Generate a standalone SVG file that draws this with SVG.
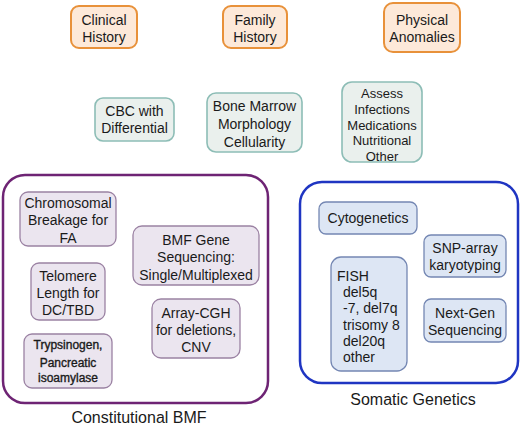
<svg xmlns="http://www.w3.org/2000/svg" width="520" height="427" viewBox="0 0 520 427">
<style>
text{font-family:"Liberation Sans",Arial,sans-serif;font-size:14px;fill:#1a1a1a;text-anchor:middle}
.or{fill:#fde9d9;stroke:#e8913a;stroke-width:2}
.te{fill:#eaf0ed;stroke:#8dbdb6;stroke-width:1.6}
.pu{fill:#ebe5ef;stroke:#9b82a3;stroke-width:1.3}
.bl{fill:#dde6f4;stroke:#7487b3;stroke-width:1.3}
.big{font-size:16px}
.sm{font-size:13px}
.tr{font-size:12px;stroke:#1a1a1a;stroke-width:0.35}
.st{text-anchor:start}
</style>
<rect width="520" height="427" fill="#ffffff"/>
<g id="clinical-history"><rect class="or" x="71" y="6" width="66" height="42" rx="8"/><text x="104" y="25">Clinical</text><text x="104" y="42">History</text></g>
<g id="family-history"><rect class="or" x="223" y="6" width="64" height="42" rx="8"/><text x="255" y="25">Family</text><text x="255" y="42">History</text></g>
<g id="physical-anomalies"><rect class="or" x="384" y="3" width="76" height="49" rx="9"/><text x="422" y="25">Physical</text><text x="422" y="42">Anomalies</text></g>
<g id="cbc"><rect class="te" x="95" y="98" width="79" height="43" rx="8"/><text x="134.5" y="116">CBC with</text><text x="134.5" y="133">Differential</text></g>
<g id="bone-marrow"><rect class="te" x="207" y="93" width="95" height="59" rx="9"/><text x="254.5" y="111">Bone Marrow</text><text x="254.5" y="129">Morphology</text><text x="254.5" y="147">Cellularity</text></g>
<g id="assess"><rect class="te" x="342" y="82" width="80" height="80" rx="10"/><text class="sm" x="382" y="98">Assess</text><text class="sm" x="382" y="114">Infections</text><text class="sm" x="382" y="130">Medications</text><text class="sm" x="382" y="145">Nutritional</text><text class="sm" x="382" y="161">Other</text></g>
<g id="constitutional-bmf"><rect x="3" y="175" width="265" height="228" rx="22" fill="none" stroke="#6e2474" stroke-width="2.5"/><text class="big" x="139" y="423">Constitutional BMF</text></g>
<g id="chromosomal"><rect class="pu" x="20" y="192" width="96" height="54" rx="8"/><text x="68" y="208">Chromosomal</text><text x="68" y="225">Breakage for</text><text x="68" y="243">FA</text></g>
<g id="telomere"><rect class="pu" x="31" y="263" width="74" height="57" rx="8"/><text x="68" y="281">Telomere</text><text x="68" y="298">Length for</text><text x="68" y="315">DC/TBD</text></g>
<g id="trypsinogen"><rect class="pu" x="24" y="334" width="88" height="54" rx="8"/><text class="tr" x="68" y="349">Trypsinogen,</text><text class="tr" x="68" y="367">Pancreatic</text><text class="tr" x="68" y="382">isoamylase</text></g>
<g id="bmf-gene"><rect class="pu" x="133" y="226" width="126" height="59" rx="9"/><text x="196" y="245">BMF Gene</text><text x="196" y="262">Sequencing:</text><text x="196" y="280">Single/Multiplexed</text></g>
<g id="array-cgh"><rect class="pu" x="152" y="299" width="88" height="59" rx="9"/><text x="196" y="318">Array-CGH</text><text x="196" y="335">for deletions,</text><text x="196" y="352">CNV</text></g>
<g id="somatic-genetics"><rect x="300" y="182" width="218" height="201" rx="22" fill="none" stroke="#1f35c2" stroke-width="2.5"/><text class="big" x="413" y="405">Somatic Genetics</text></g>
<g id="cytogenetics"><rect class="bl" x="319" y="202" width="98" height="32" rx="7"/><text x="368" y="223">Cytogenetics</text></g>
<g id="snp-array"><rect class="bl" x="424" y="235" width="82" height="42" rx="7"/><text x="465" y="253">SNP-array</text><text x="465" y="270">karyotyping</text></g>
<g id="fish"><rect class="bl" x="331" y="257" width="76" height="114" rx="10"/><text class="st" x="337" y="281">FISH</text><text class="st" x="343" y="297">del5q</text><text class="st" x="343" y="313">-7, del7q</text><text class="st" x="343" y="330">trisomy 8</text><text class="st" x="343" y="346">del20q</text><text class="st" x="343" y="362">other</text></g>
<g id="next-gen"><rect class="bl" x="424" y="299" width="82" height="43" rx="7"/><text x="465" y="318">Next-Gen</text><text x="465" y="335">Sequencing</text></g>
<g id="connectors"></g>
</svg>
